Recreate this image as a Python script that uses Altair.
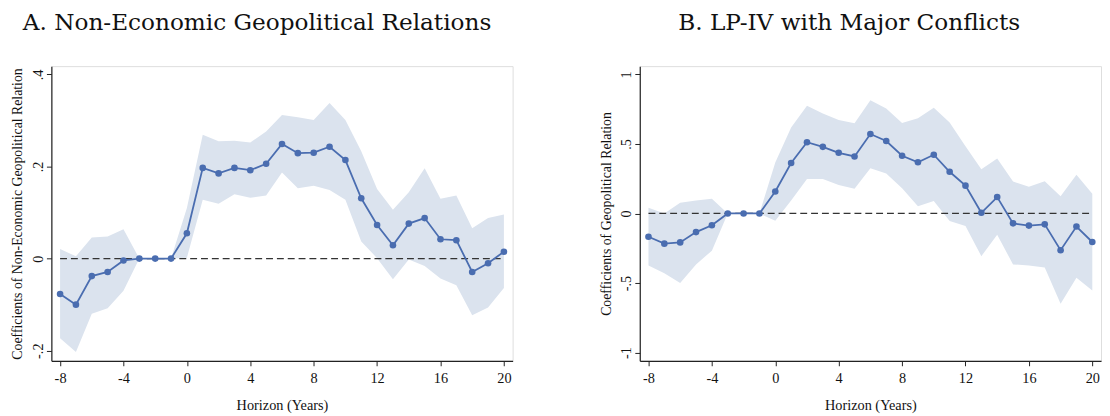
import altair as alt
import pandas as pd

horizon = list(range(-8, 21))

coef_a = [-0.077, -0.100, -0.038, -0.029, -0.004, 0.0, 0.0, 0.0, 0.055,
          0.197, 0.185, 0.197, 0.192, 0.206, 0.249, 0.229, 0.230, 0.243,
          0.214, 0.131, 0.073, 0.029, 0.076, 0.088, 0.042, 0.040, -0.029,
          -0.010, 0.015]
lo_a = [-0.173, -0.203, -0.120, -0.108, -0.070, 0.0, 0.0, 0.0, 0.002,
        0.128, 0.119, 0.140, 0.132, 0.137, 0.187, 0.153, 0.158, 0.149,
        0.128, 0.037, 0.001, -0.045, -0.002, -0.016, -0.043, -0.058,
        -0.123, -0.106, -0.064]
hi_a = [0.021, 0.005, 0.046, 0.048, 0.064, 0.0, 0.0, 0.0, 0.110,
        0.269, 0.255, 0.256, 0.252, 0.276, 0.312, 0.307, 0.301, 0.338,
        0.301, 0.233, 0.151, 0.106, 0.144, 0.196, 0.130, 0.137, 0.066,
        0.088, 0.096]

coef_b = [-0.167, -0.217, -0.208, -0.134, -0.085, 0.0, 0.0, 0.0, 0.158,
          0.363, 0.512, 0.479, 0.436, 0.410, 0.571, 0.521, 0.415, 0.368,
          0.422, 0.300, 0.200, 0.005, 0.118, -0.071, -0.087, -0.078,
          -0.264, -0.094, -0.205]
lo_b = [-0.373, -0.429, -0.500, -0.366, -0.267, 0.0, 0.0, 0.0, -0.052,
        0.094, 0.248, 0.248, 0.205, 0.177, 0.325, 0.288, 0.182, 0.052,
        0.090, -0.054, -0.090, -0.307, -0.153, -0.366, -0.373, -0.389,
        -0.649, -0.462, -0.554]
hi_b = [0.042, 0.000, 0.078, 0.094, 0.106, 0.0, 0.0, 0.0, 0.366,
        0.618, 0.774, 0.719, 0.672, 0.649, 0.814, 0.755, 0.651, 0.684,
        0.759, 0.653, 0.483, 0.318, 0.396, 0.229, 0.193, 0.231, 0.123,
        0.278, 0.142]

x_ticks = [-8, -4, 0, 4, 8, 12, 16, 20]
y_ticks_a = [-0.2, 0, 0.2, 0.4]
y_ticks_b = [-1, -0.5, 0, 0.5, 1]

title_a = "A. Non-Economic Geopolitical Relations"
title_b = "B. LP-IV with Major Conflicts"
ytitle_a = "Coefficients of Non-Economic Geopolitical Relation"
ytitle_b = "Coefficients of Geopolitical Relation"
xtitle = "Horizon (Years)"

LINE = "#4a6db0"
BAND = "#dbe3ee"
FONT = "Liberation Serif"
TFONT = "DejaVu Serif"
FS = 14.5

label_expr = "(datum.value < 0 ? '-' : '') + replace(toString(abs(datum.value)), '0.', '.')"
xlabel_expr = "(datum.value < 0 ? '-' : '') + toString(abs(datum.value))"


def panel(coef, lo, hi, yticks, ydom, ytitle, title, tdx):
    df = pd.DataFrame({"h": horizon, "b": coef, "lo": lo, "hi": hi})
    x = alt.X("h:Q", scale=alt.Scale(domain=[-8.55, 20.55], nice=False, zero=False),
              axis=alt.Axis(values=x_ticks, title=xtitle, labelExpr=xlabel_expr,
                            grid=False, tickSize=5, labelPadding=6, titlePadding=14,
                            labelFontSize=FS, titleFontSize=FS, labelFont=FONT,
                            titleFont=FONT, titleFontWeight="normal",
                            domainColor="#222", tickColor="#222", labelColor="#111",
                            titleColor="#111", domainWidth=1.2, labelFlush=False))
    ysc = alt.Scale(domain=ydom, nice=False, zero=False)
    yax = alt.Axis(values=yticks, title=ytitle, labelExpr=label_expr, grid=False,
                   tickSize=5, labelAngle=270, labelPadding=1, titlePadding=6,
                   labelFontSize=FS, titleFontSize=14, labelFont=FONT,
                   titleFont=FONT, titleFontWeight="normal",
                   domainColor="#222", tickColor="#222", labelColor="#111",
                   titleColor="#111", domainWidth=1.2, labelAlign="center",
                   labelBaseline="bottom")
    base = alt.Chart(df)
    band = base.mark_area(color=BAND, opacity=1).encode(
        x=x, y=alt.Y("lo:Q", scale=ysc, axis=yax), y2="hi:Q")
    zero = alt.Chart(pd.DataFrame({"x1": [-8], "x2": [20], "y": [0]})).mark_rule(
        color="#333", strokeDash=[7, 4], strokeWidth=1.3).encode(
        x=alt.X("x1:Q"), x2="x2:Q", y=alt.Y("y:Q"))
    line = base.mark_line(color=LINE, strokeWidth=1.8).encode(x="h:Q", y="b:Q")
    pts = base.mark_circle(color=LINE, size=45, opacity=1).encode(x="h:Q", y="b:Q")
    return alt.layer(band, zero, line, pts).properties(
        width=468, height=299,
        title=alt.TitleParams(title, font=TFONT, fontSize=23.5, fontWeight="normal",
                              color="#111", anchor="start", frame="group",
                              dx=tdx, offset=32))


pa = panel(coef_a, lo_a, hi_a, y_ticks_a, [-0.222, 0.418], ytitle_a, title_a, -29)
pb = panel(coef_b, lo_b, hi_b, y_ticks_b, [-1.059, 1.059], ytitle_b, title_b, 39)

chart = alt.hconcat(pa, pb, spacing=86).properties(
    padding={"left": 2, "top": 0, "right": 0, "bottom": 0}).configure_view(
    stroke=None).configure(background="white")

chart.save("out.html", embed_options={"renderer": "svg", "actions": False})
